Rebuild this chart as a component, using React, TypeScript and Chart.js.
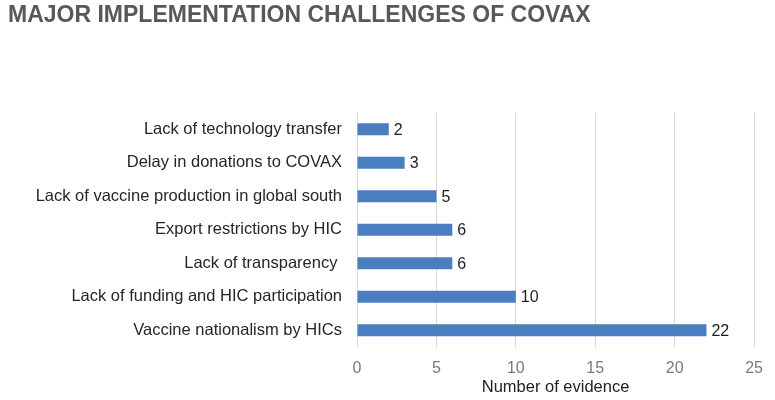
import React, { useEffect, useRef } from "react";
import { Chart, registerables } from "chart.js";

Chart.register(...registerables);

const TITLE = "MAJOR IMPLEMENTATION CHALLENGES OF COVAX";
const CATEGORIES = [
  "Lack of technology transfer",
  "Delay in donations to COVAX",
  "Lack of vaccine production in global south",
  "Export restrictions by HIC",
  "Lack of transparency ",
  "Lack of funding and HIC participation",
  "Vaccine nationalism by HICs",
];
const VALUES = [2, 3, 5, 6, 6, 10, 22];
const X_MIN = 0;
const X_MAX = 25;
const X_STEP = 5;
const X_TITLE = "Number of evidence";

const FONT = "'Liberation Sans', Arial, sans-serif";

const valueLabels = {
  id: "valueLabels",
  afterDatasetsDraw(chart: any) {
    const ctx = chart.ctx;
    const meta = chart.getDatasetMeta(0);
    ctx.save();
    ctx.font = `16px ${FONT}`;
    ctx.fillStyle = "#1e1e1e";
    ctx.textAlign = "left";
    ctx.textBaseline = "middle";
    meta.data.forEach((bar: any, i: number) => {
      ctx.fillText(String(VALUES[i]), bar.x + 5, bar.y + 1);
    });
    ctx.restore();
  },
};

export default function App() {
  const ref = useRef<HTMLCanvasElement | null>(null);
  useEffect(() => {
    if (!ref.current) return;
    const chart = new Chart(ref.current, {
      type: "bar",
      data: {
        labels: CATEGORIES,
        datasets: [
          {
            data: VALUES,
            backgroundColor: "#4a7ebf",
            borderWidth: 0,
            barPercentage: 0.36,
            categoryPercentage: 1,
          },
        ],
      },
      options: {
        indexAxis: "y",
        responsive: false,
        animation: false,
        layout: { padding: { left: 8, right: 16, top: 0, bottom: 0 } },
        plugins: {
          legend: { display: false },
          tooltip: { enabled: false },
          title: {
            display: true,
            text: TITLE,
            align: "start",
            color: "#585858",
            font: { family: FONT, size: 23, weight: "bold" },
            padding: { top: 2, bottom: 83 },
          },
        },
        scales: {
          x: {
            min: X_MIN,
            max: X_MAX,
            ticks: {
              stepSize: X_STEP,
              color: "#7a7a7a",
              font: { family: FONT, size: 16 },
              padding: 12,
            },
            grid: { color: "#d9d9d9", drawTicks: false },
            border: { display: false },
            title: {
              display: true,
              text: X_TITLE,
              color: "#222",
              font: { family: FONT, size: 16.5 },
              padding: { top: 1, bottom: 3 },
            },
            afterFit: (scale: any) => {
              scale.height = 53;
            },
          },
          y: {
            ticks: {
              color: "#262626",
              font: { family: FONT, size: 16.5 },
              padding: 15,
            },
            grid: { display: false, drawTicks: false },
            border: { display: false },
            afterFit: (scale: any) => {
              scale.width = 349;
            },
          },
        },
      },
      plugins: [valueLabels],
    });
    return () => chart.destroy();
  }, []);
  return (
    <div style={{ position: "fixed", left: 0, top: 0, width: 775, height: 400, background: "#fff" }}>
      <canvas ref={ref} width={775} height={400} />
    </div>
  );
}
